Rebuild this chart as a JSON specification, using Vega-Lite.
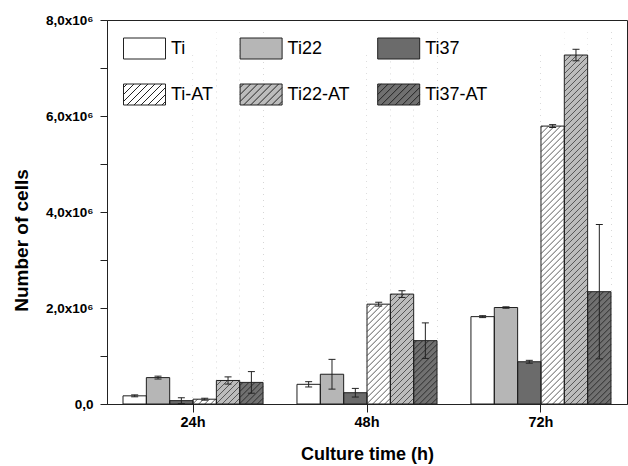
{
  "$schema": "https://vega.github.io/schema/vega-lite/v6.json",
  "width": 520,
  "height": 384,
  "autosize": {"type": "none"},
  "padding": {"left": 107, "top": 20, "right": 1, "bottom": 62},
  "background": "white",
  "config": {
    "view": {"stroke": "#222", "strokeWidth": 1},
    "font": "Liberation Sans",
    "axis": {"domainColor": "#222", "tickColor": "#222", "labelColor": "#000", "titleColor": "#000", "grid": false, "labelFont": "Liberation Sans, DejaVu Sans", "titleFont": "Liberation Sans", "domainWidth": 1, "tickWidth": 1}
  },
  "data": {
    "values": [
      {"time": "24h", "group": "Ti", "value": 170000, "lo": 150000, "hi": 190000},
      {"time": "24h", "group": "Ti22", "value": 550000, "lo": 520000, "hi": 580000},
      {"time": "24h", "group": "Ti37", "value": 70000, "lo": 10000, "hi": 130000},
      {"time": "24h", "group": "Ti-AT", "value": 100000, "lo": 80000, "hi": 120000},
      {"time": "24h", "group": "Ti22-AT", "value": 490000, "lo": 415000, "hi": 565000},
      {"time": "24h", "group": "Ti37-AT", "value": 450000, "lo": 225000, "hi": 675000},
      {"time": "48h", "group": "Ti", "value": 410000, "lo": 355000, "hi": 465000},
      {"time": "48h", "group": "Ti22", "value": 620000, "lo": 310000, "hi": 930000},
      {"time": "48h", "group": "Ti37", "value": 235000, "lo": 145000, "hi": 325000},
      {"time": "48h", "group": "Ti-AT", "value": 2080000, "lo": 2040000, "hi": 2120000},
      {"time": "48h", "group": "Ti22-AT", "value": 2290000, "lo": 2220000, "hi": 2360000},
      {"time": "48h", "group": "Ti37-AT", "value": 1320000, "lo": 950000, "hi": 1690000},
      {"time": "72h", "group": "Ti", "value": 1820000, "lo": 1800000, "hi": 1840000},
      {"time": "72h", "group": "Ti22", "value": 2010000, "lo": 1995000, "hi": 2025000},
      {"time": "72h", "group": "Ti37", "value": 880000, "lo": 850000, "hi": 910000},
      {"time": "72h", "group": "Ti-AT", "value": 5790000, "lo": 5760000, "hi": 5820000},
      {"time": "72h", "group": "Ti22-AT", "value": 7270000, "lo": 7150000, "hi": 7390000},
      {"time": "72h", "group": "Ti37-AT", "value": 2340000, "lo": 940000, "hi": 3740000}
    ]
  },
  "layer": [
    {
      "mark": {"type": "bar", "strokeWidth": 0},
      "encoding": {
        "x": {"field": "time", "type": "nominal", "scale": {"paddingInner": 0.195, "paddingOuter": 0.092},
          "axis": {"orient": "bottom", "zindex": 1, "grid": false, "ticks": true, "labelAngle": 0, "tickSize": 8, "labelPadding": 3, "labelFontSize": 14.5, "labelFontWeight": "bold", "title": "Culture time (h)", "titleFontSize": 18, "titleFontWeight": "bold", "titlePadding": 17}},
        "xOffset": {"field": "group", "type": "nominal", "scale": {"domain": ["Ti", "Ti22", "Ti37", "Ti-AT", "Ti22-AT", "Ti37-AT"], "paddingInner": 0, "paddingOuter": 0}},
        "y": {"field": "value", "type": "quantitative", "scale": {"domain": [0, 8000000], "nice": false, "zero": true},
          "axis": {"orient": "left", "zindex": 1, "grid": false, "ticks": true, "values": [0, 1000000, 2000000, 3000000, 4000000, 5000000, 6000000, 7000000, 8000000],
            "tickSize": 7,
            "labelPadding": 7, "labelFontSize": 13.5, "labelFontWeight": "bold",
            "labelExpr": "datum.value % 2000000 != 0 ? '' : datum.value == 0 ? '0,0' : replace(format(datum.value / 1000000, '.1f'), '.', ',') + 'x10⁶'",
            "title": "Number of cells", "titleFontSize": 19, "titleFontWeight": "bold", "titlePadding": 14, "titleY": 220}},
        "fill": {"field": "group", "type": "nominal",
          "scale": {"domain": ["Ti", "Ti22", "Ti37", "Ti-AT", "Ti22-AT", "Ti37-AT"], "range": ["#ffffff", "#b6b6b6", "#6b6b6b", "#ffffff", "#bcbcbc", "#707070"]},
          "legend": {"title": null, "orient": "none", "legendX": 16, "legendY": 7, "columns": 3, "direction": "horizontal",
            "symbolType": "M-1,-0.5H1V0.5H-1Z", "symbolSize": 1764, "symbolStrokeColor": "#222", "symbolStrokeWidth": 1,
            "labelFontSize": 18, "labelFont": "Liberation Sans", "labelColor": "#000", "labelOffset": 5, "columnPadding": 24.6, "rowPadding": 12, "padding": 0,
            "encode": {"symbols": {"update": {"shape": [
              {"test": "indexof(datum.value, '-AT') >= 0", "value": "M-1,-0.5H1V0.5H-1ZM-1,-0.333L-0.833,-0.5M-1,0L-0.5,-0.5M-1,0.333L-0.167,-0.5M-0.833,0.5L0.167,-0.5M-0.5,0.5L0.5,-0.5M-0.167,0.5L0.833,-0.5M0.167,0.5L1,-0.333M0.5,0.5L1,0M0.833,0.5L1,0.333"},
              {"value": "M-1,-0.5H1V0.5H-1Z"}]}}}}}
      }
    },
    {
      "transform": [{"filter": "indexof(datum.group, '-AT') >= 0"}],
      "mark": {"type": "point", "filled": false, "opacity": 1, "size": 4, "strokeWidth": 0.9,
        "shape": "M6,0L11.6,-5.6M0,0L11.6,-11.6M-6,0L11.6,-17.6M-11.6,-0.4l23.2,-23.2M-11.6,-6.4l23.2,-23.2M-11.6,-12.4l23.2,-23.2M-11.6,-18.4l23.2,-23.2M-11.6,-24.4l23.2,-23.2M-11.6,-30.4l23.2,-23.2M-11.6,-36.4l23.2,-23.2M-11.6,-42.4l23.2,-23.2M-11.6,-48.4l23.2,-23.2M-11.6,-54.4l23.2,-23.2M-11.6,-60.4l23.2,-23.2M-11.6,-66.4l23.2,-23.2M-11.6,-72.4l23.2,-23.2M-11.6,-78.4l23.2,-23.2M-11.6,-84.4l23.2,-23.2M-11.6,-90.4l23.2,-23.2M-11.6,-96.4l23.2,-23.2M-11.6,-102.4l23.2,-23.2M-11.6,-108.4l23.2,-23.2M-11.6,-114.4l23.2,-23.2M-11.6,-120.4l23.2,-23.2M-11.6,-126.4l23.2,-23.2M-11.6,-132.4l23.2,-23.2M-11.6,-138.4l23.2,-23.2M-11.6,-144.4l23.2,-23.2M-11.6,-150.4l23.2,-23.2M-11.6,-156.4l23.2,-23.2M-11.6,-162.4l23.2,-23.2M-11.6,-168.4l23.2,-23.2M-11.6,-174.4l23.2,-23.2M-11.6,-180.4l23.2,-23.2M-11.6,-186.4l23.2,-23.2M-11.6,-192.4l23.2,-23.2M-11.6,-198.4l23.2,-23.2M-11.6,-204.4l23.2,-23.2M-11.6,-210.4l23.2,-23.2M-11.6,-216.4l23.2,-23.2M-11.6,-222.4l23.2,-23.2M-11.6,-228.4l23.2,-23.2M-11.6,-234.4l23.2,-23.2M-11.6,-240.4l23.2,-23.2M-11.6,-246.4l23.2,-23.2M-11.6,-252.4l23.2,-23.2M-11.6,-258.4l23.2,-23.2M-11.6,-264.4l23.2,-23.2M-11.6,-270.4l23.2,-23.2M-11.6,-276.4l23.2,-23.2M-11.6,-282.4l23.2,-23.2M-11.6,-288.4l23.2,-23.2M-11.6,-294.4l23.2,-23.2M-11.6,-300.4l23.2,-23.2M-11.6,-306.4l23.2,-23.2M-11.6,-312.4l23.2,-23.2M-11.6,-318.4l23.2,-23.2M-11.6,-324.4l23.2,-23.2M-11.6,-330.4l23.2,-23.2M-11.6,-336.4l23.2,-23.2M-11.6,-342.4l23.2,-23.2M-11.6,-348.4l23.2,-23.2"},
      "encoding": {
        "x": {"field": "time", "type": "nominal"},
        "xOffset": {"field": "group", "type": "nominal"},
        "y": {"datum": 0, "type": "quantitative"},
        "stroke": {"condition": {"test": "datum.group == 'Ti37-AT'", "value": "#262626"}, "value": "#4a4a4a"}
      }
    },
    {
      "transform": [{"filter": "indexof(datum.group, '-AT') >= 0"}],
      "mark": {"type": "bar", "fill": "white", "strokeWidth": 0},
      "encoding": {
        "x": {"field": "time", "type": "nominal"},
        "xOffset": {"field": "group", "type": "nominal"},
        "y": {"field": "value", "type": "quantitative"},
        "y2": {"datum": 7800000}
      }
    },
    {
      "mark": {"type": "bar", "fill": "transparent", "stroke": "#1e1e1e", "strokeWidth": 1},
      "encoding": {
        "x": {"field": "time", "type": "nominal"},
        "xOffset": {"field": "group", "type": "nominal"},
        "y": {"field": "value", "type": "quantitative"}
      }
    },
    {
      "mark": {"type": "rule", "color": "#222", "strokeWidth": 1},
      "encoding": {
        "x": {"field": "time", "type": "nominal"},
        "xOffset": {"field": "group", "type": "nominal"},
        "y": {"field": "lo", "type": "quantitative"},
        "y2": {"field": "hi"}
      }
    },
    {
      "mark": {"type": "tick", "color": "#222", "size": 7, "thickness": 1, "opacity": 1},
      "encoding": {
        "x": {"field": "time", "type": "nominal"},
        "xOffset": {"field": "group", "type": "nominal"},
        "y": {"field": "lo", "type": "quantitative"}
      }
    },
    {
      "mark": {"type": "tick", "color": "#222", "size": 7, "thickness": 1, "opacity": 1},
      "encoding": {
        "x": {"field": "time", "type": "nominal"},
        "xOffset": {"field": "group", "type": "nominal"},
        "y": {"field": "hi", "type": "quantitative"}
      }
    }
  ]
}
